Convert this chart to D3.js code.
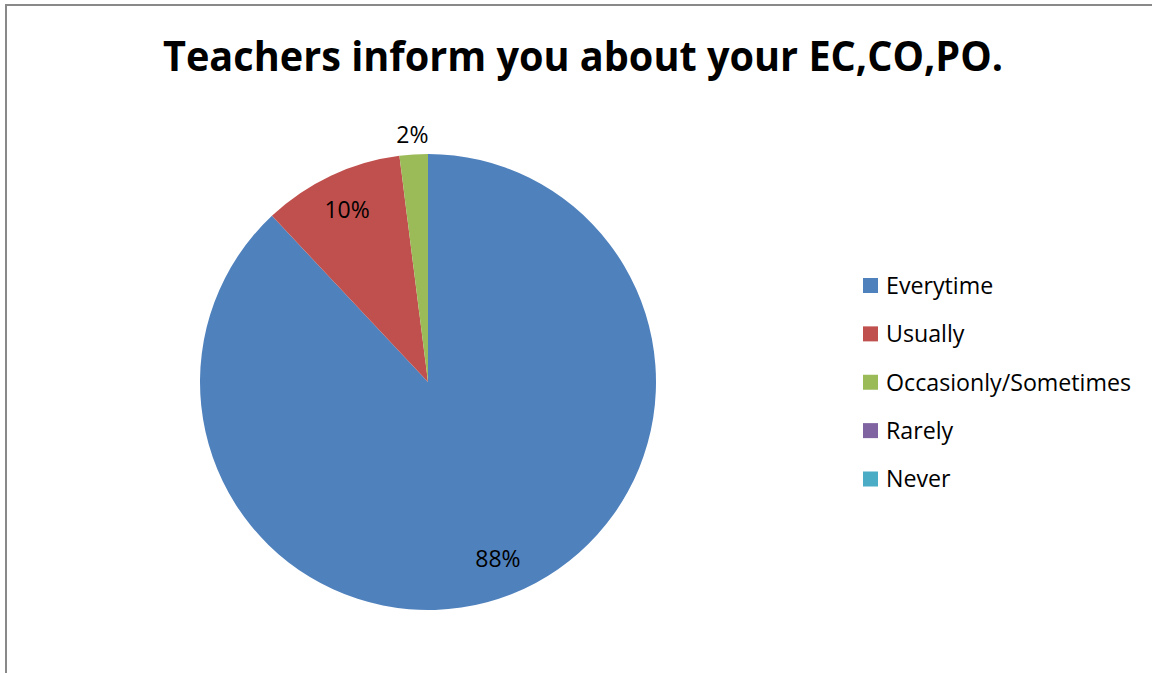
<!DOCTYPE html>
<html>
<head>
<meta charset="utf-8">
<script src="https://cdn.jsdelivr.net/npm/d3@7"></script>
<style>
  html, body { margin: 0; padding: 0; background: #fff; overflow: hidden; }
  svg { display: block; }
</style>
</head>
<body>
<svg id="chart" width="1152" height="673"></svg>
<script>
const title = "Teachers inform you about your EC,CO,PO.";
const categories = ["Everytime", "Usually", "Occasionly/Sometimes", "Rarely", "Never"];
const values = [88, 10, 2, 0, 0];
const colors = ["#4F81BD", "#C0504D", "#9BBB59", "#8064A2", "#4BACC6"];

const W = 1152, H = 673;
const svg = d3.select("#chart");
const font = "'Open Sans', 'Liberation Sans', sans-serif";

// outer border
svg.append("rect")
  .attr("x", 6).attr("y", 5)
  .attr("width", W + 20).attr("height", H + 20)
  .attr("fill", "#fff")
  .attr("stroke", "#898989").attr("stroke-width", 2);

// title
svg.append("text")
  .attr("x", 583).attr("y", 71)
  .attr("text-anchor", "middle")
  .attr("font-family", font)
  .attr("font-weight", "bold")
  .attr("font-size", 41)
  .attr("textLength", 840)
  .attr("lengthAdjust", "spacingAndGlyphs")
  .attr("fill", "#000")
  .text(title);

const cx = 428, cy = 382, R = 228;
const data = categories.map((c, i) => ({ cat: c, value: values[i], color: colors[i] }));
const pie = d3.pie().sort(null).value(d => d.value);
const arcs = pie(data);
const arc = d3.arc().innerRadius(0).outerRadius(R);
const labelArcIn = d3.arc().innerRadius(190).outerRadius(190);
const labelArcOut = d3.arc().innerRadius(248).outerRadius(248);

const g = svg.append("g").attr("transform", `translate(${cx},${cy})`);
g.selectAll("path.slice")
  .data(arcs)
  .join("path")
  .attr("class", "slice")
  .attr("d", arc)
  .attr("fill", d => d.data.color);

const total = d3.sum(values);
g.selectAll("text.lbl")
  .data(arcs.filter(d => d.data.value > 0))
  .join("text")
  .attr("class", "lbl")
  .attr("transform", d => {
    const c = (d.data.value / total < 0.05 ? labelArcOut : labelArcIn).centroid(d);
    return `translate(${c[0]},${c[1]})`;
  })
  .attr("text-anchor", "middle")
  .attr("dy", "0.36em")
  .attr("font-family", font)
  .attr("font-size", 23)
  .attr("fill", "#000")
  .text(d => Math.round(d.data.value / total * 100) + "%");

// legend
const legendY = d3.scalePoint().domain(categories).range([285.5, 479]);
const lg = svg.append("g");
const items = lg.selectAll("g.item")
  .data(data)
  .join("g")
  .attr("class", "item")
  .attr("transform", d => `translate(863,${legendY(d.cat)})`);
items.append("rect")
  .attr("x", 0).attr("y", -7.5)
  .attr("width", 15).attr("height", 15)
  .attr("fill", d => d.color);
items.append("text")
  .attr("x", 23).attr("y", 0)
  .attr("dy", "0.36em")
  .attr("font-family", font)
  .attr("font-size", 23.2)
  .attr("fill", "#000")
  .text(d => d.cat);
</script>
</body>
</html>
